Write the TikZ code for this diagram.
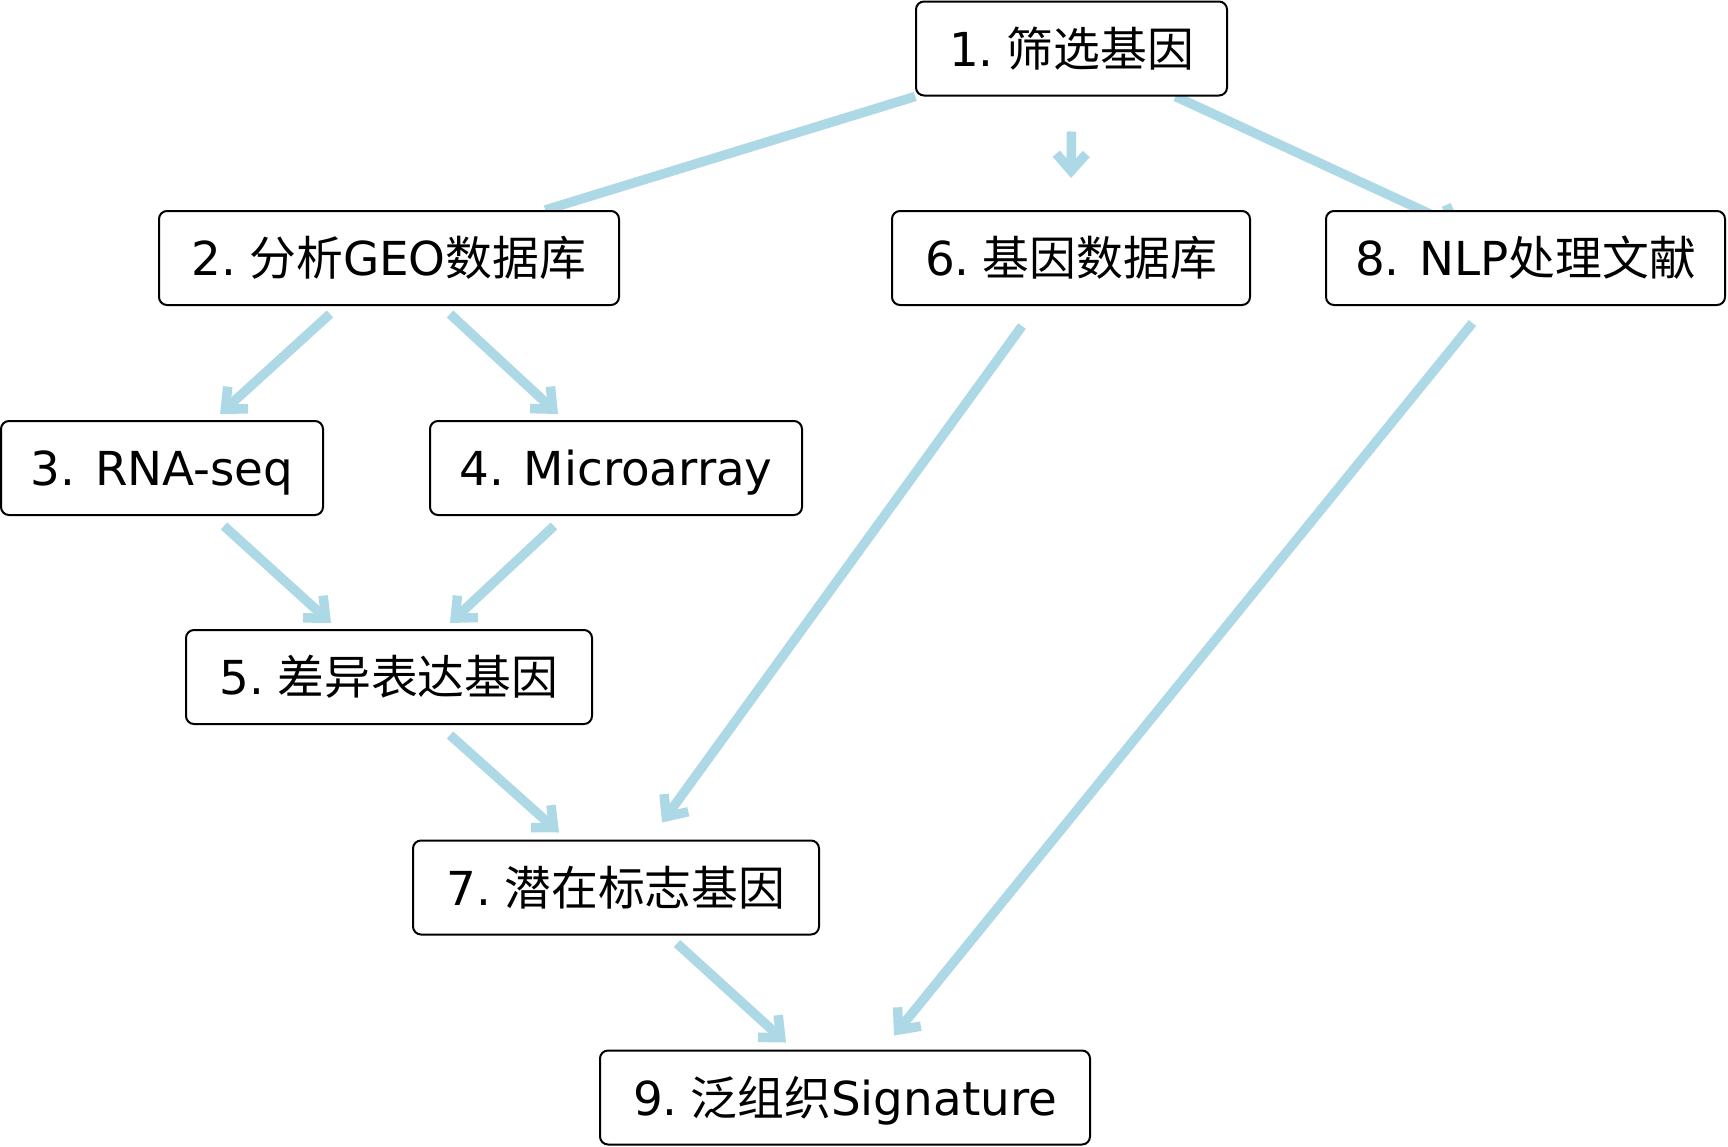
\documentclass[tikz,border=0pt]{standalone}
\usepackage{fontspec}
\setmainfont{DejaVu Sans}
\newfontfamily\cjk{Noto Sans CJK SC}
\usetikzlibrary{arrows.meta,calc,backgrounds}
\definecolor{lblue}{RGB}{173,216,230}
\tikzset{
  box/.style={draw=black, line width=1pt, rounded corners=4pt, fill=white,
    minimum height=47pt, inner sep=0pt, text height=17.6pt, text depth=0pt,
    font=\fontsize{23.4}{28}\selectfont},
  arr/.style={draw=lblue, line width=4.75pt,
    -{Straight Barb[length=8.5pt,width=15pt]}},
  link/.style={draw=lblue, line width=4.75pt}
}
\begin{document}
\begin{tikzpicture}[x=0.5pt,y=-0.5pt]
\useasboundingbox (0,0) rectangle (1728,1146);
\node[box, minimum width=155.5pt] (n1) at (1071.5,48.5) {1.\hspace{0.28em}{\cjk 筛选基因}};
\node[box, minimum width=230pt] (n2) at (389,258) {2.\hspace{0.28em}{\cjk 分析}GEO{\cjk 数据库}};
\node[box, minimum width=179pt] (n6) at (1071,258) {6.\hspace{0.28em}{\cjk 基因数据库}};
\node[box, minimum width=199.5pt] (n8) at (1525.5,258) {8. NLP{\cjk 处理文献}};
\node[box, minimum width=161pt] (n3) at (162,468) {3. RNA-seq};
\node[box, minimum width=186pt] (n4) at (616,468) {4. Microarray};
\node[box, minimum width=203pt] (n5) at (389,677) {5.\hspace{0.28em}{\cjk 差异表达基因}};
\node[box, minimum width=203pt] (n7) at (616,887.5) {7.\hspace{0.28em}{\cjk 潜在标志基因}};
\node[box, minimum width=245pt] (n9) at (845,1097.5) {9.\hspace{0.28em}{\cjk 泛组织}Signature};
\begin{scope}[on background layer]
\draw[link] (n1) -- (n2);
\draw[arr] (n1) -- ($(n1)!0.86!(n8)$);
\end{scope}
\draw[arr] ($(n1.south)+(0,35)$) -- ($(n6.north)+(0,-32)$);
\draw[arr] ($(n2.south)+(-59,8)$) -- ($(n3.north)+(58,-6)$);
\draw[arr] ($(n2.south)+(61,8)$) -- ($(n4.north)+(-58,-6)$);
\draw[arr] ($(n3.south)+(62,10)$) -- ($(n5.north)+(-58,-6)$);
\draw[arr] ($(n4.south)+(-62,10)$) -- ($(n5.north)+(61,-6)$);
\draw[arr] ($(n5.south)+(61,10)$) -- ($(n7.north)+(-57,-7)$);
\draw[arr] ($(n6.south)+(-49,20)$) -- ($(n7.north)+(46,-17)$);
\draw[arr] ($(n8.south)+(-53,17)$) -- ($(n9.north)+(49,-14)$);
\draw[arr] ($(n7.south)+(61,8)$) -- ($(n9.north)+(-59,-7)$);
\end{tikzpicture}
\end{document}
